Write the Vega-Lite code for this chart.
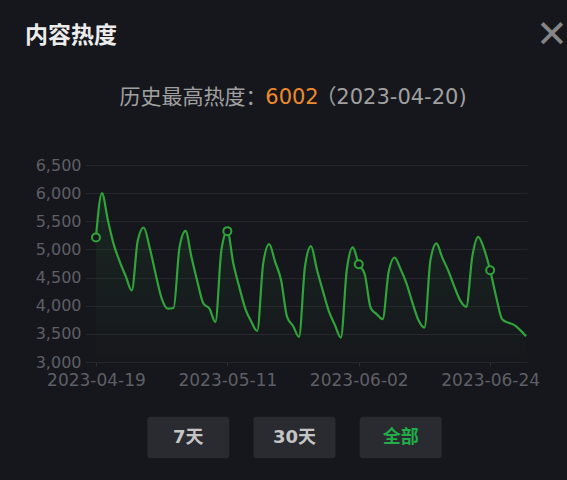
{
  "$schema": "https://vega.github.io/schema/vega-lite/v6.json",
  "background": "#16171c",
  "autosize": {"type": "none"},
  "padding": {"left": 85, "top": 0, "right": 482, "bottom": 480},
  "bounds": "flush",
  "spacing": 0,
  "config": {
    "view": {"stroke": null},
    "font": "DejaVu Sans, Noto Sans CJK SC"
  },
  "datasets": {
    "heat": [
      {"date": "2023-04-19", "heat": 5213},
      {"date": "2023-04-20", "heat": 6002},
      {"date": "2023-04-21", "heat": 5520},
      {"date": "2023-04-22", "heat": 5080},
      {"date": "2023-04-23", "heat": 4780},
      {"date": "2023-04-24", "heat": 4520},
      {"date": "2023-04-25", "heat": 4270},
      {"date": "2023-04-26", "heat": 5160},
      {"date": "2023-04-27", "heat": 5390},
      {"date": "2023-04-28", "heat": 5030},
      {"date": "2023-04-29", "heat": 4560},
      {"date": "2023-04-30", "heat": 4130},
      {"date": "2023-05-01", "heat": 3950},
      {"date": "2023-05-02", "heat": 3960},
      {"date": "2023-05-03", "heat": 5046},
      {"date": "2023-05-04", "heat": 5331},
      {"date": "2023-05-05", "heat": 4860},
      {"date": "2023-05-06", "heat": 4420},
      {"date": "2023-05-07", "heat": 4039},
      {"date": "2023-05-08", "heat": 3950},
      {"date": "2023-05-09", "heat": 3712},
      {"date": "2023-05-10", "heat": 4987},
      {"date": "2023-05-11", "heat": 5325},
      {"date": "2023-05-12", "heat": 4751},
      {"date": "2023-05-13", "heat": 4330},
      {"date": "2023-05-14", "heat": 3950},
      {"date": "2023-05-15", "heat": 3720},
      {"date": "2023-05-16", "heat": 3551},
      {"date": "2023-05-17", "heat": 4751},
      {"date": "2023-05-18", "heat": 5094},
      {"date": "2023-05-19", "heat": 4780},
      {"date": "2023-05-20", "heat": 4453},
      {"date": "2023-05-21", "heat": 3800},
      {"date": "2023-05-22", "heat": 3640},
      {"date": "2023-05-23", "heat": 3445},
      {"date": "2023-05-24", "heat": 4700},
      {"date": "2023-05-25", "heat": 5058},
      {"date": "2023-05-26", "heat": 4640},
      {"date": "2023-05-27", "heat": 4260},
      {"date": "2023-05-28", "heat": 3900},
      {"date": "2023-05-29", "heat": 3660},
      {"date": "2023-05-30", "heat": 3434},
      {"date": "2023-05-31", "heat": 4640},
      {"date": "2023-06-01", "heat": 5035},
      {"date": "2023-06-02", "heat": 4738},
      {"date": "2023-06-03", "heat": 4560},
      {"date": "2023-06-04", "heat": 3960},
      {"date": "2023-06-05", "heat": 3850},
      {"date": "2023-06-06", "heat": 3760},
      {"date": "2023-06-07", "heat": 4601},
      {"date": "2023-06-08", "heat": 4857},
      {"date": "2023-06-09", "heat": 4650},
      {"date": "2023-06-10", "heat": 4393},
      {"date": "2023-06-11", "heat": 4050},
      {"date": "2023-06-12", "heat": 3742},
      {"date": "2023-06-13", "heat": 3612},
      {"date": "2023-06-14", "heat": 4809},
      {"date": "2023-06-15", "heat": 5106},
      {"date": "2023-06-16", "heat": 4850},
      {"date": "2023-06-17", "heat": 4620},
      {"date": "2023-06-18", "heat": 4340},
      {"date": "2023-06-19", "heat": 4090},
      {"date": "2023-06-20", "heat": 3979},
      {"date": "2023-06-21", "heat": 4868},
      {"date": "2023-06-22", "heat": 5224},
      {"date": "2023-06-23", "heat": 5000},
      {"date": "2023-06-24", "heat": 4630},
      {"date": "2023-06-25", "heat": 4160},
      {"date": "2023-06-26", "heat": 3760},
      {"date": "2023-06-27", "heat": 3700},
      {"date": "2023-06-28", "heat": 3660},
      {"date": "2023-06-29", "heat": 3570},
      {"date": "2023-06-30", "heat": 3457}
    ]
  },
  "vconcat": [
    {
      "width": 442,
      "height": 165,
      "resolve": {"scale": {"x": "independent", "color": "independent"}},
      "layer": [
        {
          "data": {"values": [
            {"item": "内容热度", "role": "title", "line": "title"},
            {"item": "✕", "role": "close", "line": "title"}
          ]},
          "encoding": {
            "x": {"field": "item", "type": "nominal", "scale": {"type": "point", "domain": ["内容热度", "✕"], "range": [-14, 467], "padding": 0}, "axis": null},
            "y": {"field": "line", "type": "nominal", "scale": {"type": "point", "domain": ["title", "sub"], "range": [36, 97.5], "padding": 0}, "axis": null},
            "text": {"field": "item"}
          },
          "layer": [
            {
              "transform": [{"filter": "datum.role == 'title'"}],
              "mark": {"type": "text", "fontSize": 23, "fontWeight": "bold", "color": "#ececec", "baseline": "middle", "align": "center", "font": "Noto Sans CJK SC"}
            },
            {
              "transform": [{"filter": "datum.role == 'close'"}],
              "mark": {"type": "text", "fontSize": 38, "color": "#858585", "baseline": "middle", "align": "center", "font": "DejaVu Sans"}
            }
          ]
        },
        {
          "data": {"values": [
            {"seg": "历史最高热度：", "kind": "label", "line": "sub"},
            {"seg": "6002", "kind": "max", "line": "sub"},
            {"seg": "（2023-04-20)", "kind": "label", "line": "sub"}
          ]},
          "mark": {"type": "text", "fontSize": 21, "baseline": "middle", "align": "center"},
          "encoding": {
            "x": {"field": "seg", "type": "nominal", "scale": {"type": "point", "domain": ["历史最高热度：", "6002", "（2023-04-20)"], "range": [108, 306], "padding": 0}, "axis": null},
            "y": {"field": "line", "type": "nominal", "scale": {"type": "point", "domain": ["title", "sub"], "range": [36, 97.5], "padding": 0}, "axis": null},
            "text": {"field": "seg"},
            "color": {"field": "kind", "type": "nominal", "scale": {"domain": ["label", "max"], "range": ["#a0a0a0", "#ec8a2c"]}, "legend": null}
          }
        }
      ]
    },
    {
      "width": 442,
      "height": 197,
      "data": {"name": "heat"},
      "encoding": {
        "x": {
          "field": "date",
          "type": "temporal",
          "scale": {"type": "utc", "domain": [
            {"year": 2023, "month": 4, "date": 17, "hours": 4, "utc": true},
            {"year": 2023, "month": 6, "date": 30, "hours": 4, "utc": true}
          ]},
          "axis": {
            "values": [
              {"year": 2023, "month": 4, "date": 19, "utc": true},
              {"year": 2023, "month": 5, "date": 11, "utc": true},
              {"year": 2023, "month": 6, "date": 2, "utc": true},
              {"year": 2023, "month": 6, "date": 24, "utc": true}
            ],
            "labelExpr": "utcFormat(datum.value, '%Y-%m-%d')",
            "title": null,
            "grid": false,
            "domain": false,
            "ticks": true,
            "tickSize": 4,
            "tickColor": "#2a2c32",
            "labelColor": "#5e5f66",
            "labelFontSize": 17,
            "labelFont": "DejaVu Sans",
            "labelPadding": 6,
            "labelFlush": false,
            "labelOverlap": false
          }
        },
        "y": {
          "field": "heat",
          "type": "quantitative",
          "scale": {"domain": [3000, 6500], "nice": false, "zero": false},
          "axis": {
            "values": [3000, 3500, 4000, 4500, 5000, 5500, 6000, 6500],
            "format": ",d",
            "title": null,
            "domain": false,
            "ticks": false,
            "grid": true,
            "gridColor": "#25272d",
            "gridWidth": 1,
            "labelColor": "#5e5f66",
            "labelFontSize": 16,
            "labelFont": "DejaVu Sans",
            "labelPadding": 4,
            "labelOverlap": false
          }
        }
      },
      "layer": [
        {
          "mark": {
            "type": "area",
            "interpolate": "monotone",
            "color": {
              "x1": 0, "y1": 1, "x2": 0, "y2": 0,
              "gradient": "linear",
              "stops": [
                {"offset": 0, "color": "rgba(46,160,67,0)"},
                {"offset": 1, "color": "rgba(46,160,67,0.12)"}
              ]
            }
          },
          "encoding": {
            "y2": {"datum": 3000}
          }
        },
        {
          "mark": {"type": "line", "interpolate": "monotone", "color": "#30a43a", "strokeWidth": 2.2}
        },
        {
          "transform": [{"filter": "indexof(['2023-04-19','2023-05-11','2023-06-02','2023-06-24'], utcFormat(toDate(datum.date), '%Y-%m-%d')) >= 0"}],
          "mark": {"type": "point", "shape": "circle", "size": 64, "fill": "#16171c", "stroke": "#30a43a", "strokeWidth": 2, "opacity": 1, "filled": true}
        }
      ]
    },
    {
      "width": 442,
      "height": 118,
      "data": {"values": [
        {"label": "7天", "active": "no", "row": "tabs"},
        {"label": "30天", "active": "no", "row": "tabs"},
        {"label": "全部", "active": "yes", "row": "tabs"}
      ]},
      "encoding": {
        "x": {"field": "label", "type": "nominal", "sort": null, "scale": {"type": "band", "domain": ["7天", "30天", "全部"], "range": [62.3, 356.7], "paddingInner": 0.228, "paddingOuter": 0}, "axis": null},
        "y": {"field": "row", "type": "nominal", "scale": {"type": "band", "domain": ["tabs"], "range": [54.7, 96.3], "paddingInner": 0, "paddingOuter": 0}, "axis": null}
      },
      "layer": [
        {
          "mark": {"type": "rect", "cornerRadius": 3, "color": "#2a2b30"}
        },
        {
          "mark": {"type": "text", "fontSize": 18, "fontWeight": "bold", "baseline": "middle", "align": "center", "font": "DejaVu Sans, Noto Sans CJK SC"},
          "encoding": {
            "text": {"field": "label"},
            "color": {"field": "active", "type": "nominal", "scale": {"domain": ["no", "yes"], "range": ["#c4c4c4", "#21ad48"]}, "legend": null}
          }
        }
      ]
    }
  ]
}
